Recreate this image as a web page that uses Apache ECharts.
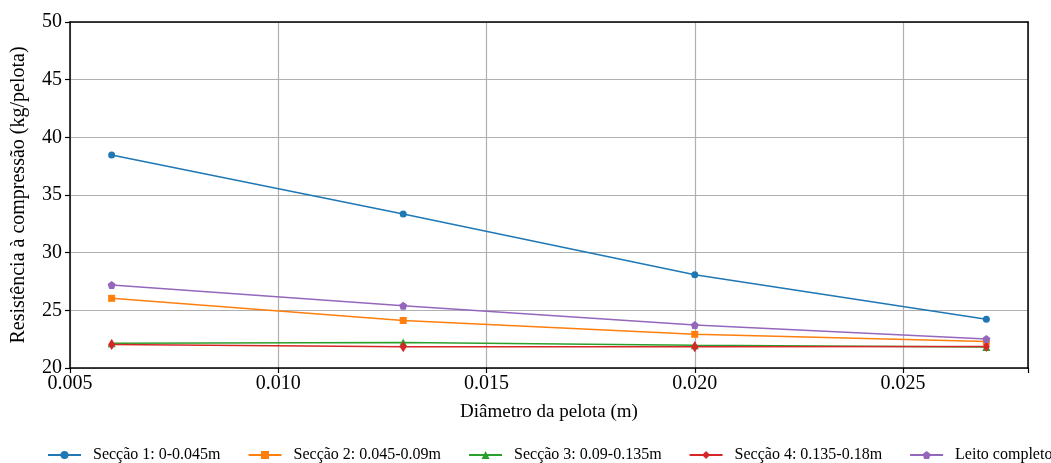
<!DOCTYPE html>
<html><head><meta charset="utf-8">
<script src="https://cdn.jsdelivr.net/npm/echarts@6/dist/echarts.min.js"></script>
<style>html,body{margin:0;padding:0;background:#fff}#c{width:1051px;height:463px}</style>
</head><body><div id="c"></div>
<script>
const diameters = [0.006, 0.013, 0.020, 0.027];
const sec1 = [38.47, 33.35, 28.08, 24.22];
const sec2 = [26.04, 24.12, 22.92, 22.3];
const sec3 = [22.14, 22.22, 21.98, 21.82];
const sec4 = [22.03, 21.85, 21.85, 21.86];
const leito = [27.2, 25.4, 23.72, 22.52];
const names = ['Secção 1: 0-0.045m','Secção 2: 0.045-0.09m','Secção 3: 0.09-0.135m','Secção 4: 0.135-0.18m','Leito completo'];
const colors = ['#1f77b4','#ff7f0e','#2ca02c','#d62728','#9467bd'];
const symbols = ['circle','rect','triangle','path://M0,-1 L0.62,0 L0,1 L-0.62,0 Z','path://M0,-1 L0.951,-0.309 L0.588,0.809 L-0.588,0.809 L-0.951,-0.309 Z'];
const sizes = [7,7,8,[7,11],8];
const all = [sec1,sec2,sec3,sec4,leito];
const font = 'Liberation Serif, Times New Roman, serif';
const chart = echarts.init(document.getElementById('c'), null, {renderer:'canvas'});
const spine = {color:'#000',width:1.5};
chart.setOption({
  animation:false,
  textStyle:{fontFamily:font},
  grid:{left:70,right:23,top:22,bottom:95},
  xAxis:[{type:'value',min:0.005,max:0.028,interval:0.005,
    name:'Diâmetro da pelota (m)',nameLocation:'middle',nameGap:35,
    nameTextStyle:{fontFamily:font,fontSize:19,color:'#000'},
    axisLine:{show:true,onZero:false,lineStyle:spine},
    axisTick:{show:true,inside:false,length:5,lineStyle:{color:'#000',width:1.2}},
    axisLabel:{fontFamily:font,fontSize:20,color:'#000',margin:6,
      formatter:v=>{const k=v/0.005;return Math.abs(k-Math.round(k))<1e-6?v.toFixed(3):'';}},
    splitLine:{show:true,lineStyle:{color:'#b0b0b0',width:1.2}}
  },{type:'value',position:'top',min:0.005,max:0.028,axisLine:{show:true,onZero:false,lineStyle:spine},axisTick:{show:false},axisLabel:{show:false},splitLine:{show:false}}],
  yAxis:[{type:'value',min:20,max:50,interval:5,
    name:'Resistência à compressão (kg/pelota)',nameLocation:'middle',nameGap:41,
    nameTextStyle:{fontFamily:font,fontSize:20,color:'#000'},
    axisLine:{show:true,onZero:false,lineStyle:spine},
    axisTick:{show:true,inside:false,length:5,lineStyle:{color:'#000',width:1.2}},
    axisLabel:{fontFamily:font,fontSize:20,color:'#000',margin:8},
    splitLine:{show:true,lineStyle:{color:'#b0b0b0',width:1.2}}
  },{type:'value',position:'right',min:20,max:50,axisLine:{show:true,onZero:false,lineStyle:spine},axisTick:{show:false},axisLabel:{show:false},splitLine:{show:false}}],
  legend:{bottom:-5,left:42,width:1200,itemWidth:33,itemHeight:10,itemGap:27,
    lineStyle:{width:2},
    textStyle:{fontFamily:font,fontSize:16,color:'#000',padding:[0,0,0,7]},
    data:names},
  series:all.map((d,i)=>({
    name:names[i],type:'line',data:diameters.map((x,j)=>[x,d[j]]),
    symbol:symbols[i],symbolSize:sizes[i],showSymbol:true,
    itemStyle:{color:colors[i]},lineStyle:{color:colors[i],width:1.5},z:10+i
  }))
});
</script></body></html>
